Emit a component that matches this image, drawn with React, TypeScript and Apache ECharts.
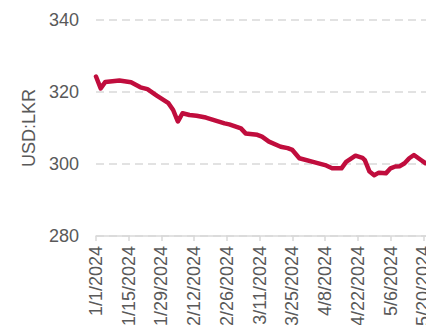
import React, { useEffect, useRef } from "react";
import * as echarts from "echarts";

// Day offsets from 1/1/2024 and USD:LKR rate
const dayOffsets = [0, 2, 4, 10, 15, 19, 22, 26, 31, 33, 35, 37, 40, 43, 47, 55, 57, 62, 64, 69, 71, 74, 79, 82, 84, 87, 94, 98, 101, 105, 107, 111, 114, 115, 117, 119, 121, 124, 126, 128, 130, 132, 134, 136, 139, 141, 143];
const rates = [324.3, 321.0, 322.8, 323.2, 322.7, 321.3, 320.8, 319.0, 316.9, 315.0, 311.8, 314.1, 313.6, 313.4, 312.9, 311.3, 311.0, 309.9, 308.5, 308.1, 307.6, 306.2, 304.8, 304.4, 303.9, 301.6, 300.4, 299.7, 298.8, 298.8, 300.6, 302.3, 301.7, 301.1, 297.9, 296.9, 297.6, 297.4, 298.8, 299.3, 299.4, 300.2, 301.6, 302.5, 301.1, 300.2, 300.0];
const yTicks = [280, 300, 320, 340];
const startDate = [2024, 0, 1];

const fmtDate = (d: number) => {
  const dt = new Date(startDate[0], startDate[1], startDate[2] + Math.round(d));
  return `${dt.getMonth() + 1}/${dt.getDate()}/${dt.getFullYear()}`;
};

export default function App() {
  const ref = useRef<HTMLDivElement>(null);
  useEffect(() => {
    if (!ref.current) return;
    const chart = echarts.init(ref.current, null, { renderer: "svg" });
    const font = "Arial, 'Liberation Sans', sans-serif";
    chart.setOption({
      animation: false,
      grid: { left: 96, top: 20, width: 360, height: 216, containLabel: false },
      xAxis: {
        type: "value",
        min: 0,
        max: 154,
        interval: 14,
        axisLine: { show: true, lineStyle: { color: "#d9d9d9", width: 1.5 } },
        axisTick: { show: true, length: 5, lineStyle: { color: "#d9d9d9", width: 1.5 } },
        splitLine: { show: false },
        axisLabel: {
          rotate: 90,
          margin: 10,
          fontSize: 18,
          color: "#595959",
          fontFamily: font,
          formatter: (v: number) => fmtDate(v),
        },
      },
      yAxis: {
        type: "value",
        min: yTicks[0],
        max: yTicks[yTicks.length - 1],
        interval: 20,
        name: "USD:LKR",
        nameLocation: "middle",
        nameGap: 58,
        nameRotate: 90,
        nameTextStyle: { fontSize: 18, color: "#595959", fontFamily: font },
        axisLine: { show: false },
        axisTick: { show: false },
        axisLabel: { fontSize: 18, color: "#595959", fontFamily: font, margin: 17 },
        splitLine: { show: true, lineStyle: { color: "#d9d9d9", width: 1.5, type: [8, 5] } },
      },
      series: [
        {
          type: "line",
          data: dayOffsets.map((d, i) => [d, rates[i]]),
          showSymbol: false,
          lineStyle: { color: "#c00d3d", width: 4.5, join: "round", cap: "round" },
          itemStyle: { color: "#c00d3d" },
        },
      ],
    });
    return () => chart.dispose();
  }, []);
  return (
    <div style={{ position: "fixed", left: 0, top: 0, width: 426, height: 325, overflow: "hidden", background: "#fff" }}>
      <div ref={ref} style={{ width: 480, height: 420 }} />
    </div>
  );
}
